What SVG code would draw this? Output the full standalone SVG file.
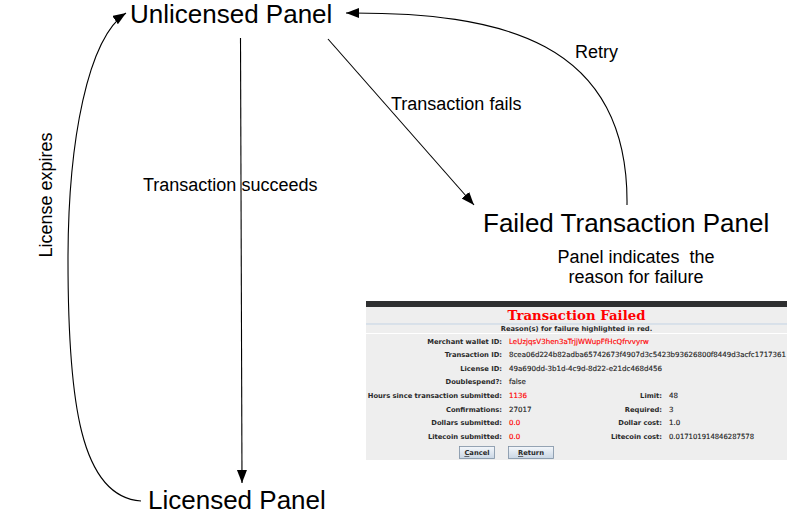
<svg xmlns="http://www.w3.org/2000/svg" width="792" height="517" viewBox="0 0 792 517">
<style>
.node{font-family:"Liberation Sans",Arial,sans-serif;font-size:26px;fill:#000}
.lbl{font-family:"Liberation Sans",Arial,sans-serif;font-size:18px;fill:#000}
.edge{fill:none;stroke:#000;stroke-width:1.1}
.k{font-family:"DejaVu Sans",sans-serif;font-size:6.75px;font-weight:bold;fill:#2a2a2a;text-anchor:end}
.v{font-family:"DejaVu Sans",sans-serif;font-size:7.1px;fill:#1e1e1e;stroke:#1e1e1e;stroke-width:0.15}
.r{fill:#ff0000;stroke:#ff0000}
.btn{fill:url(#bg);stroke:#7d8fa3;stroke-width:0.8}
.bt{font-family:"DejaVu Sans",sans-serif;font-size:6.75px;font-weight:bold;fill:#2a2a2a;text-anchor:middle}
</style>
<defs>
<marker id="ah" markerUnits="userSpaceOnUse" markerWidth="14" markerHeight="12" refX="13" refY="5" orient="auto">
<path d="M0,0 L13,5 L0,10 Z" fill="#000"/>
</marker>
<linearGradient id="bg" x1="0" y1="0" x2="0" y2="1">
<stop offset="0" stop-color="#f4f7fb"/>
<stop offset="1" stop-color="#c9d6e4"/>
</linearGradient>
</defs>
<rect width="792" height="517" fill="#fff"/>

<g id="connectors">
<path class="edge" d="M240.5,38 L242,483" marker-end="url(#ah)"/>
<path class="edge" d="M328,39 L474,205" marker-end="url(#ah)"/>
<path class="edge" d="M627,205 C629,40 500,12 346,13" marker-end="url(#ah)"/>
<path class="edge" d="M141,501 C80,497 68,400 68,260 C68,140 88,38 126,13" marker-end="url(#ah)"/>
<text class="lbl" x="143" y="191">Transaction succeeds</text>
<text class="lbl" x="391" y="110">Transaction fails</text>
<text class="lbl" x="575" y="58">Retry</text>
<text class="lbl" transform="translate(52,195) rotate(-90)" text-anchor="middle">License expires</text>
</g>

<g id="unlicensed"><text class="node" x="130" y="22.5">Unlicensed Panel</text></g>
<g id="licensed"><text class="node" x="148" y="509">Licensed Panel</text></g>
<g id="failed"><text class="node" x="483" y="232">Failed Transaction Panel</text></g>
<g id="failed-note">
<text class="lbl" x="636" y="263" text-anchor="middle" xml:space="preserve">Panel indicates  the</text>
<text class="lbl" x="636" y="283" text-anchor="middle">reason for failure</text>
</g>

<g id="screenshot">
<rect x="366" y="301" width="421" height="159" fill="#eeeeee"/>
<rect x="366" y="301" width="421" height="6" fill="#2e2f30"/>
<line x1="366" y1="324" x2="787" y2="324" stroke="#c3d3e4" stroke-width="1"/>
<line x1="366" y1="333.5" x2="787" y2="333.5" stroke="#ffffff" stroke-width="1.2"/>
<text x="576.5" y="320" text-anchor="middle" font-family="'DejaVu Serif',serif" font-weight="bold" font-size="13.3" fill="#ff0000">Transaction Failed</text>
<text x="576.5" y="331" text-anchor="middle" font-family="'DejaVu Sans',sans-serif" font-weight="bold" font-size="6.75" fill="#2a2a2a">Reason(s) for failure highlighted in red.</text>

<text class="k" x="502" y="344">Merchant wallet ID:</text>
<text class="v r" x="509" y="344">LeUzjqsV3hen3aTrjjWWupFfHcQfrvvyrw</text>
<text class="k" x="502" y="357">Transaction ID:</text>
<text class="v" x="509" y="357" textLength="277" lengthAdjust="spacingAndGlyphs">8cea06d224b82adba65742673f4907d3c5423b93626800f8449d3acfc1717361</text>
<text class="k" x="502" y="370.5">License ID:</text>
<text class="v" x="509" y="370.5">49a690dd-3b1d-4c9d-8d22-e21dc468d456</text>
<text class="k" x="502" y="383.5">Doublespend?:</text>
<text class="v" x="509" y="383.5">false</text>
<text class="k" x="502" y="397.5">Hours since transaction submitted:</text>
<text class="v r" x="509" y="397.5">1136</text>
<text class="k" x="502" y="411.5">Confirmations:</text>
<text class="v" x="509" y="411.5">27017</text>
<text class="k" x="502" y="424.5">Dollars submitted:</text>
<text class="v r" x="509" y="424.5">0.0</text>
<text class="k" x="502" y="438.5">Litecoin submitted:</text>
<text class="v r" x="509" y="438.5">0.0</text>

<text class="k" x="662" y="397.5">Limit:</text>
<text class="v" x="669" y="397.5">48</text>
<text class="k" x="662" y="411.5">Required:</text>
<text class="v" x="669" y="411.5">3</text>
<text class="k" x="662" y="424.5">Dollar cost:</text>
<text class="v" x="669" y="424.5">1.0</text>
<text class="k" x="662" y="438.5">Litecoin cost:</text>
<text class="v" x="669" y="438.5" textLength="85" lengthAdjust="spacingAndGlyphs">0.017101914846287578</text>

<rect class="btn" x="459.5" y="446.5" width="35" height="12"/>
<text class="bt" x="477" y="455"><tspan text-decoration="underline">C</tspan>ancel</text>
<rect class="btn" x="508.5" y="446.5" width="45" height="12"/>
<text class="bt" x="531" y="455"><tspan text-decoration="underline">R</tspan>eturn</text>
</g>
</svg>
